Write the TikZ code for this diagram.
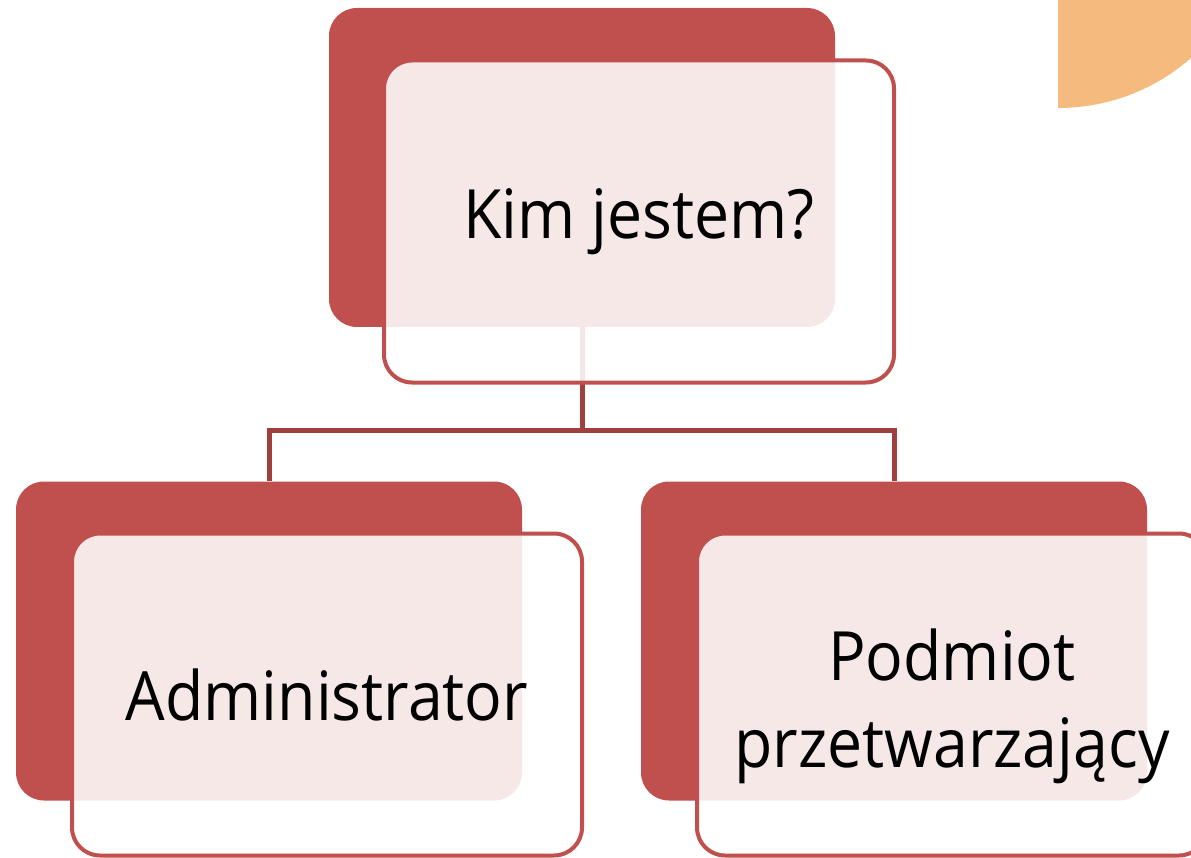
\documentclass[tikz,border=0pt]{standalone}
\usepackage{fontspec}
\setmainfont{Open Sans}[FakeStretch=0.92]
\definecolor{accred}{HTML}{C0504D}
\definecolor{connred}{HTML}{A0403E}
\definecolor{orangec}{HTML}{F5BB7E}
\tikzset{
  backbox/.style={fill=accred, draw=none, rounded corners=28pt, minimum width=506pt, minimum height=319pt, inner sep=0pt},
  frontbox/.style={draw=accred, line width=4pt, fill=white, fill opacity=0.87, text opacity=1, rounded corners=28pt, minimum width=510pt, minimum height=322pt, inner sep=0pt, align=center, font=\fontsize{68}{87}\selectfont},
  conn/.style={draw=connred, line width=5pt}
}
\begin{document}
\begin{tikzpicture}[x=1pt,y=-1pt]
\useasboundingbox (0,0) rectangle (1191,858);
\begin{scope}
  \clip (1058,0) rectangle (1191,200);
  \fill[orangec] (1058,-94) circle (202pt);
\end{scope}
\node[backbox] (tb) at (582,167.5) {};
\node[backbox] (lb) at (269,641) {};
\node[backbox] (rb) at (894,641) {};
\coordinate (j) at (582,430);
\draw[conn] (tb.south) -- (tb.south |- j);
\draw[conn] (lb.north) -- (lb.north |- j) -- (rb.north |- j) -- (rb.north);
\node[frontbox] (tf) at (639,221.5) {Kim jestem?};
\node[frontbox] (lf) at (327,694.5) {Administrator};
\node[frontbox] (rf) at (952,694.5) {\rule{0pt}{76pt}Podmiot\\przetwarzający};
\end{tikzpicture}
\end{document}
